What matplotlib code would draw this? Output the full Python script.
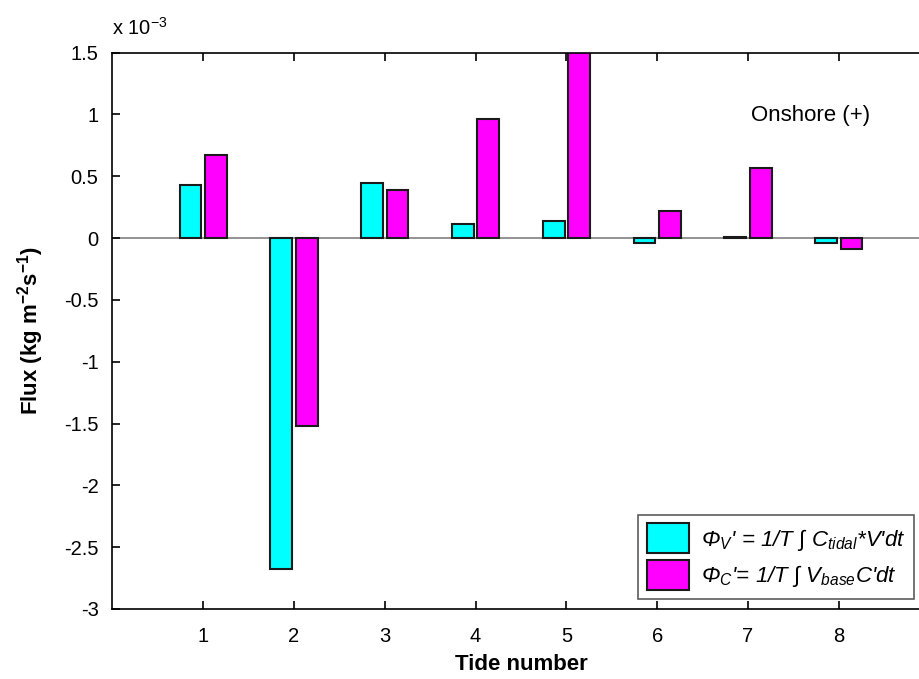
import matplotlib
matplotlib.use('Agg')
import matplotlib.pyplot as plt
import numpy as np

plt.rcParams['font.family'] = ['Liberation Sans', 'DejaVu Sans']
plt.rcParams['mathtext.fontset'] = 'custom'
plt.rcParams['mathtext.rm'] = 'Liberation Sans'
plt.rcParams['mathtext.it'] = 'Liberation Sans:italic'
plt.rcParams['mathtext.bf'] = 'Liberation Sans:bold'

# tide numbers and fluxes (x 1e-3 kg m^-2 s^-1)
tides = [1, 2, 3, 4, 5, 6, 7, 8]
flux_v = [0.43, -2.68, 0.445, 0.115, 0.135, -0.04, 0.005, -0.04]
flux_c = [0.67, -1.52, 0.39, 0.96, 1.55, 0.22, 0.57, -0.087]
y_ticks = [1.5, 1, 0.5, 0, -0.5, -1, -1.5, -2, -2.5, -3]
y_tick_labels = ['1.5', '1', '0.5', '0', '-0.5', '-1', '-1.5', '-2', '-2.5', '-3']

fig = plt.figure(figsize=(9.19, 6.79), dpi=100)
ax = fig.add_axes([0.1224, 0.1031, 0.889, 0.8195])

x = np.array(tides)
w = 0.24
ax.axhline(0, color='#808080', lw=1.2, zorder=1)
ax.bar(x - 0.14, flux_v, width=w, color='#00ffff', edgecolor='#1a1a1a', lw=1.5,
       zorder=2, label="Φ$_{V}$' = 1/T ∫ C$_{tidal}$*V'dt")
ax.bar(x + 0.14, flux_c, width=w, color='#ff00ff', edgecolor='#1a1a1a', lw=1.5,
       zorder=2, label="Φ$_{C}$'= 1/T ∫ V$_{base}$C'dt")

ax.set_xlim(0, 9)
ax.set_ylim(-3, 1.5)
ax.set_xticks(tides)
ax.set_yticks(y_ticks)
ax.set_yticklabels(y_tick_labels)
ax.tick_params(direction='in', top=True, right=True, length=6, width=1.2,
               labelsize=14.5)
ax.tick_params(axis='x', pad=13)
ax.tick_params(axis='y', pad=10)
for s in ax.spines.values():
    s.set_linewidth(1.2)

ax.set_xlabel('Tide number', fontsize=16, fontweight='bold', labelpad=6)
ax.set_ylabel(r'Flux (kg m$^{\mathbf{-2}}$s$^{\mathbf{-1}}$)', fontsize=16,
              fontweight='bold', labelpad=13)
ax.text(0.0, 1.025, r'x 10$^{\mathrm{-3}}$', transform=ax.transAxes, fontsize=14.5,
        ha='left', va='bottom')
ax.text(7.69, 0.99, 'Onshore (+)', fontsize=16, ha='center', va='center')

leg = ax.legend(loc='lower right', bbox_to_anchor=(0.981, 0.018),
                prop={'size': 16, 'style': 'italic'},
                frameon=True, fancybox=False, edgecolor='#333333',
                handlelength=1.9, handleheight=1.7, borderpad=0.4,
                labelspacing=0.3, handletextpad=0.5, borderaxespad=0)
leg.get_frame().set_linewidth(1.2)

fig.savefig('out.png', dpi=100)
